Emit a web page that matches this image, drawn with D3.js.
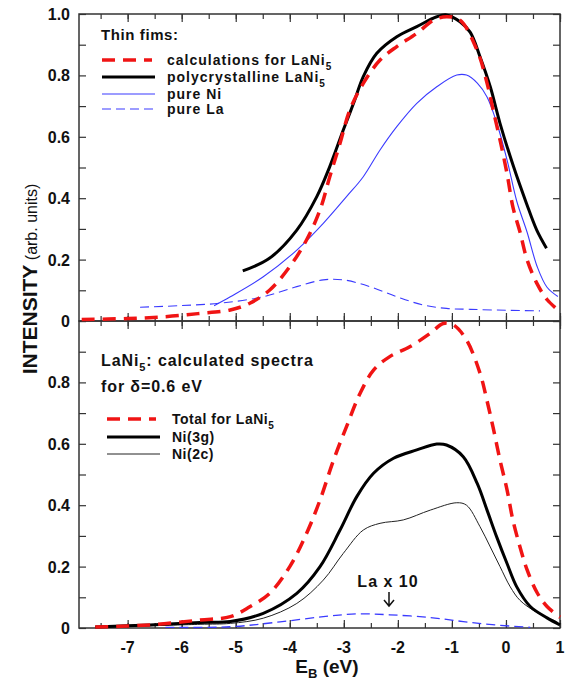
<!DOCTYPE html>
<html lang="en">
<head>
<meta charset="utf-8">
<title>LaNi5 spectra</title>
<script src="https://cdn.jsdelivr.net/npm/d3@7"></script>
<style>
  body { margin: 0; background: #fff; }
  text { font-family: "Liberation Sans", Arial, sans-serif; fill: #111; }
  .tick-label { font-size: 16px; font-weight: bold; }
  .legend { font-size: 14px; font-weight: bold; }
</style>
</head>
<body>
<script>
// ---- data (E_B in eV, intensity in arb. units) ----
// top panel: thin films
var calcE   = [-7.85,-7.0,-6.3,-5.7,-5.1,-4.74,-4.37,-4.0,-3.69,-3.44,-3.26,-3.07,-2.89,-2.64,-2.33,-2.02,-1.65,-1.34,-1.1,-0.85,-0.53,-0.35,-0.24,-0.11,0.02,0.13,0.26,0.39,0.58,0.76,1.0];
var calcI   = [0.005,0.008,0.014,0.024,0.036,0.058,0.101,0.177,0.264,0.362,0.47,0.579,0.687,0.774,0.85,0.894,0.937,0.98,0.991,0.98,0.88,0.775,0.69,0.59,0.48,0.37,0.29,0.2,0.12,0.07,0.03];
var polyE   = [-4.87,-4.37,-3.87,-3.5,-3.26,-3.01,-2.82,-2.64,-2.39,-2.02,-1.65,-1.28,-1.1,-0.85,-0.66,-0.48,-0.29,-0.11,0.14,0.38,0.57,0.75];
var polyI   = [0.163,0.205,0.296,0.405,0.503,0.622,0.709,0.796,0.872,0.926,0.959,0.991,0.997,0.975,0.94,0.861,0.763,0.644,0.503,0.383,0.296,0.237];
var niE     = [-5.4,-5.1,-4.49,-3.87,-3.38,-2.95,-2.64,-2.33,-2.02,-1.65,-1.28,-0.91,-0.73,-0.53,-0.35,-0.17,0.02,0.2,0.39,0.58,0.76,0.96];
var niI     = [0.05,0.079,0.144,0.231,0.318,0.405,0.47,0.557,0.633,0.709,0.763,0.801,0.801,0.775,0.73,0.645,0.525,0.39,0.29,0.176,0.11,0.08];
var laE     = [-6.77,-6.03,-5.29,-4.49,-3.87,-3.38,-3.01,-2.52,-2.02,-1.53,-1.1,-0.66,0.0,0.63];
var laI     = [0.045,0.05,0.058,0.079,0.112,0.134,0.134,0.112,0.079,0.052,0.041,0.038,0.035,0.033];

// bottom panel: calculated spectra, delta = 0.6 eV
var totE    = [-7.6,-6.59,-5.66,-5.1,-4.74,-4.37,-4.0,-3.69,-3.44,-3.19,-2.95,-2.7,-2.45,-2.15,-1.78,-1.4,-1.16,-0.97,-0.73,-0.48,-0.35,-0.24,-0.11,0.02,0.13,0.26,0.39,0.58,0.76,1.0];
var totI    = [0.003,0.01,0.026,0.037,0.069,0.113,0.2,0.308,0.417,0.547,0.656,0.764,0.84,0.884,0.916,0.96,0.992,0.987,0.938,0.83,0.74,0.655,0.547,0.45,0.35,0.264,0.19,0.114,0.07,0.035];
var ni3gE   = [-7.6,-6.59,-5.66,-5.1,-4.49,-3.87,-3.44,-3.07,-2.76,-2.45,-2.08,-1.65,-1.28,-1.1,-0.79,-0.53,-0.35,-0.17,0.02,0.2,0.45,0.76,1.0];
var ni3gI   = [0.003,0.01,0.018,0.021,0.048,0.113,0.2,0.319,0.428,0.504,0.553,0.58,0.599,0.596,0.558,0.47,0.384,0.296,0.21,0.134,0.07,0.033,0.01];
var ni2cE   = [-7.6,-5.66,-5.1,-4.49,-3.87,-3.38,-3.01,-2.64,-2.33,-1.9,-1.4,-0.91,-0.73,-0.48,-0.29,-0.11,0.08,0.26,0.58,0.95];
var ni2cI   = [0.002,0.012,0.015,0.032,0.08,0.156,0.243,0.319,0.341,0.352,0.384,0.408,0.40,0.33,0.264,0.2,0.134,0.09,0.05,0.02];
var la10E   = [-6.3,-5.1,-4.18,-3.38,-2.76,-2.15,-1.4,-0.79,-0.2,0.45];
var la10I   = [0.002,0.004,0.02,0.037,0.046,0.043,0.034,0.021,0.01,0.002];

var xTicks  = [-7,-6,-5,-4,-3,-2,-1,0,1];
var yTicksTop = [0,0.2,0.4,0.6,0.8,1.0];
var yTicksBot = [0,0.2,0.4,0.6,0.8];

// ---- layout ----
var W = 569, H = 686;
var left = 79, right = 560;
var top1 = 14, mid = 321, bot = 628;

var svg = d3.select("body").append("svg")
  .attr("width", W).attr("height", H);

var x = d3.scaleLinear().domain([-7.9, 1.0]).range([left, right]);
var yTop = d3.scaleLinear().domain([0, 1]).range([mid, top1]);
var yBot = d3.scaleLinear().domain([0, 1]).range([bot, mid]);

function zip(a, b) { return a.map(function(v, i) { return [v, b[i]]; }); }

function drawCurve(ys, es, is, color, width, dash) {
  var line = d3.line()
    .x(function(d) { return x(d[0]); })
    .y(function(d) { return ys(d[1]); })
    .curve(d3.curveCatmullRom.alpha(0.5));
  svg.append("path")
    .attr("d", line(zip(es, is)))
    .attr("fill", "none")
    .attr("stroke", color)
    .attr("stroke-width", width)
    .attr("stroke-dasharray", dash || null)
    .attr("stroke-linejoin", "round");
}

var RED = "#f01414", BLUE = "#3a3aff";

// ---- axes: inside ticks on all sides ----
function panelAxes(ys, yTicks, yTop0, yBot0) {
  var g = svg.append("g");
  var minorX = d3.range(-7.5, 1.01, 0.5);
  var minorY = d3.range(0, 1.001, 0.1);
  // x ticks top and bottom edges
  g.append("g").attr("transform", "translate(0," + yBot0 + ")")
    .call(d3.axisTop(x).tickValues(minorX).tickSize(5).tickFormat(""));
  g.append("g").attr("transform", "translate(0," + yBot0 + ")")
    .call(d3.axisTop(x).tickValues(xTicks).tickSize(8).tickFormat(""));
  g.append("g").attr("transform", "translate(0," + yTop0 + ")")
    .call(d3.axisBottom(x).tickValues(minorX).tickSize(5).tickFormat(""));
  g.append("g").attr("transform", "translate(0," + yTop0 + ")")
    .call(d3.axisBottom(x).tickValues(xTicks).tickSize(8).tickFormat(""));
  // y ticks left and right
  g.append("g").attr("transform", "translate(" + left + ",0)")
    .call(d3.axisRight(ys).tickValues(minorY).tickSize(7).tickFormat(""));
  g.append("g").attr("transform", "translate(" + right + ",0)")
    .call(d3.axisLeft(ys).tickValues(minorY).tickSize(7).tickFormat(""));
  g.selectAll(".domain").remove();
  g.selectAll("line").attr("stroke", "#333").attr("stroke-width", 1.2);
  // frame
  svg.append("rect").attr("x", left).attr("y", yTop0)
    .attr("width", right - left).attr("height", yBot0 - yTop0)
    .attr("fill", "none").attr("stroke", "#333").attr("stroke-width", 1.5);
  // y labels
  svg.append("g").selectAll("text").data(yTicks).enter().append("text")
    .attr("class", "tick-label")
    .attr("x", left - 9)
    .attr("y", function(d) { return ys(d) + 6; })
    .attr("text-anchor", "end")
    .text(function(d) { return d === 0 ? "0" : d3.format(".1f")(d); });
}

panelAxes(yTop, yTicksTop, top1, mid);
panelAxes(yBot, yTicksBot, mid, bot);

// x tick labels
svg.append("g").selectAll("text").data(xTicks).enter().append("text")
  .attr("class", "tick-label")
  .attr("x", function(d) { return x(d); })
  .attr("y", 653)
  .attr("text-anchor", "middle")
  .text(function(d) { return d; });

// ---- curves ----
drawCurve(yTop, laE, laI, BLUE, 1.1, "9,5");
drawCurve(yTop, niE, niI, BLUE, 1.1);
drawCurve(yTop, polyE, polyI, "#000", 3);
drawCurve(yTop, calcE, calcI, RED, 3.5, "13,8");

drawCurve(yBot, la10E, la10I, BLUE, 1.3, "9,5");
drawCurve(yBot, ni2cE, ni2cI, "#222", 1);
drawCurve(yBot, ni3gE, ni3gI, "#000", 3);
drawCurve(yBot, totE, totI, RED, 3.5, "13,8");

// ---- legends ----
function legendRow(x1, x2, tx, y, color, width, dash, label, sub, ls) {
  svg.append("line").attr("x1", x1).attr("x2", x2).attr("y1", y).attr("y2", y)
    .attr("stroke", color).attr("stroke-width", width).attr("stroke-dasharray", dash || null);
  var t = svg.append("text").attr("class", "legend").attr("x", tx).attr("y", y + 5)
    .attr("letter-spacing", ls).text(label);
  if (sub) t.append("tspan").attr("dy", 5).attr("font-size", 10).text(sub);
}

svg.append("text").attr("x", 101).attr("y", 40).attr("letter-spacing", 0.6)
  .attr("font-size", 15).attr("font-weight", "bold").text("Thin fims:");
legendRow(102, 152, 167, 60, RED, 3.5, "13,8", "calculations for LaNi", "5", 1);
legendRow(102, 155, 167, 77, "#000", 3, null, "polycrystalline LaNi", "5", 1);
legendRow(102, 155, 167, 94, BLUE, 1.1, null, "pure Ni", null, 1);
legendRow(102, 155, 167, 109, BLUE, 1.1, "9,5", "pure La", null, 1);

var t1 = svg.append("text").attr("x", 101).attr("y", 366).attr("letter-spacing", 0.9)
  .attr("font-size", 16).attr("font-weight", "bold").text("LaNi");
t1.append("tspan").attr("dy", 5).attr("font-size", 11).text("5");
t1.append("tspan").attr("dy", -5).text(": calculated spectra");
svg.append("text").attr("x", 101).attr("y", 392).attr("letter-spacing", 0.9)
  .attr("font-size", 16).attr("font-weight", "bold").text("for \u03b4=0.6 eV");

legendRow(107, 156, 172, 419, RED, 3.5, "13,8", "Total for LaNi", "5", 0.5);
legendRow(107, 160, 172, 437, "#000", 3, null, "Ni(3g)", null, 0.5);
legendRow(107, 160, 172, 454, "#222", 1, null, "Ni(2c)", null, 0.5);

// La x 10 annotation
svg.append("text").attr("x", 388).attr("y", 587).attr("text-anchor", "middle")
  .attr("letter-spacing", 1)
  .attr("font-size", 16).attr("font-weight", "bold").text("La x 10");
svg.append("path").attr("d", "M389,592 L389,606 M384,600 L389,606 L394,600")
  .attr("fill", "none").attr("stroke", "#111").attr("stroke-width", 1.5);

// ---- axis titles ----
var xt = svg.append("text").attr("x", 327).attr("y", 673).attr("text-anchor", "middle")
  .attr("font-size", 19).attr("font-weight", "bold");
xt.append("tspan").text("E");
xt.append("tspan").attr("dy", 5).attr("font-size", 13).text("B");
xt.append("tspan").attr("dy", -5).text(" (eV)");

var yt = svg.append("text").attr("transform", "translate(37,279) rotate(-90)")
  .attr("text-anchor", "middle");
yt.append("tspan").attr("font-size", 21).attr("font-weight", "bold").text("INTENSITY");
yt.append("tspan").attr("font-size", 16).text("  (arb. units)");
</script>
</body>
</html>
